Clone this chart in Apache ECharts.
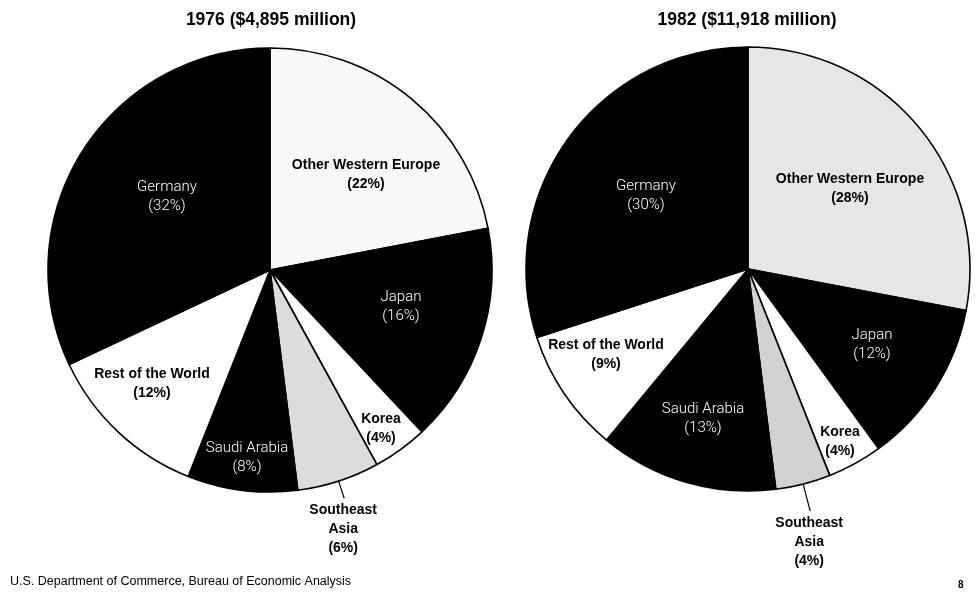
<!DOCTYPE html>
<html>
<head>
<meta charset="utf-8">
<script src="https://cdn.jsdelivr.net/npm/echarts@6/dist/echarts.min.js"></script>
<style>
html,body{margin:0;padding:0;background:#fff;}
#chart{width:977px;height:595px;}
</style>
</head>
<body>
<div id="chart"></div>
<script>
// ---- data ----
const categories = ['Other Western Europe', 'Japan', 'Korea', 'Southeast\nAsia', 'Saudi Arabia', 'Rest of the World', 'Germany'];
const share1976 = [22, 16, 4, 6, 8, 12, 32];
const share1982 = [28, 12, 4, 4, 13, 9, 30];
const titles = ['1976 ($4,895 million)', '1982 ($11,918 million)'];
const sourceText = 'U.S. Department of Commerce, Bureau of Economic Analysis';
const pageNumber = '8';

// ---- style / layout ----
const fills = [
  ['#f8f8f8', '#000000', '#ffffff', '#dcdcdc', '#000000', '#ffffff', '#000000'],
  ['#e6e6e6', '#000000', '#ffffff', '#d2d2d2', '#000000', '#ffffff', '#000000']
];
// label anchor offsets from each pie's centre (null = outside label with leader line)
const labelOffsets = [
  [[96, -95], [131, 37], [111, 159], null, [-23, 188], [-118, 114], [-103, -73]],
  [[102, -80], [124, 76], [92, 173], null, [-45, 150], [-142, 86], [-102, -73]]
];
const leaderLen = [18, 28];
const centers = [[270, 270], [748, 269]];
const R = 222;
const shares = [share1976, share1982];
const BOLDFONT = "'Liberation Sans', Arial, sans-serif";
const LIGHTFONT = "Roboto, 'Liberation Sans', sans-serif";

function buildSeries(s) {
  const arr = shares[s];
  return {
    type: 'pie',
    center: centers[s],
    radius: [0, R],
    startAngle: 90,
    clockwise: true,
    avoidLabelOverlap: false,
    animation: false,
    silent: true,
    itemStyle: { borderColor: '#000', borderWidth: 1.6 },
    label: {
      show: true,
      position: 'inside',
      lineHeight: 19,
      align: 'center',
      formatter: p => p.name + '\n(' + p.value + '%)'
    },
    labelLine: { show: false },
    labelLayout: function (params) {
      const i = params.dataIndex;
      const off = labelOffsets[s][i];
      if (off == null) {
        const pts = params.labelLinePoints;
        if (!pts) return {};
        const end = pts[pts.length - 1];
        return { x: end[0] - 1, y: end[1] + 2, align: 'center', verticalAlign: 'top', labelLinePoints: pts };
      }
      return {
        x: centers[s][0] + off[0],
        y: centers[s][1] + off[1],
        align: 'center',
        verticalAlign: 'middle'
      };
    },
    data: arr.map((v, i) => {
      const dark = fills[s][i] === '#000000';
      const item = {
        name: categories[i],
        value: v,
        itemStyle: { color: fills[s][i] },
        label: dark
          ? { color: '#ffffff', fontFamily: LIGHTFONT, fontWeight: 300, fontSize: 15 }
          : { color: '#000000', fontFamily: BOLDFONT, fontWeight: 'bold', fontSize: 14 }
      };
      if (labelOffsets[s][i] == null) {
        item.label.position = 'outside';
        item.labelLine = { show: true, length: leaderLen[s], length2: 0, smooth: false, lineStyle: { color: '#000', width: 1.2 } };
      }
      return item;
    })
  };
}

const chart = echarts.init(document.getElementById('chart'), null, { renderer: 'canvas' });
chart.setOption({
  backgroundColor: '#ffffff',
  title: [
    { text: titles[0], left: 266, top: 6, textAlign: 'center',
      textStyle: { fontFamily: BOLDFONT, fontSize: 17.5, fontWeight: 'bold', color: '#000' } },
    { text: titles[1], left: 742, top: 6, textAlign: 'center',
      textStyle: { fontFamily: BOLDFONT, fontSize: 17.5, fontWeight: 'bold', color: '#000' } },
    { text: sourceText, left: 5, top: 570,
      textStyle: { fontFamily: BOLDFONT, fontSize: 12.5, fontWeight: 'normal', color: '#000' } },
    { text: pageNumber, left: 953, top: 575,
      textStyle: { fontFamily: BOLDFONT, fontSize: 10, fontWeight: 'bold', color: '#000' } }
  ],
  series: [buildSeries(0), buildSeries(1)]
});
</script>
</body>
</html>
